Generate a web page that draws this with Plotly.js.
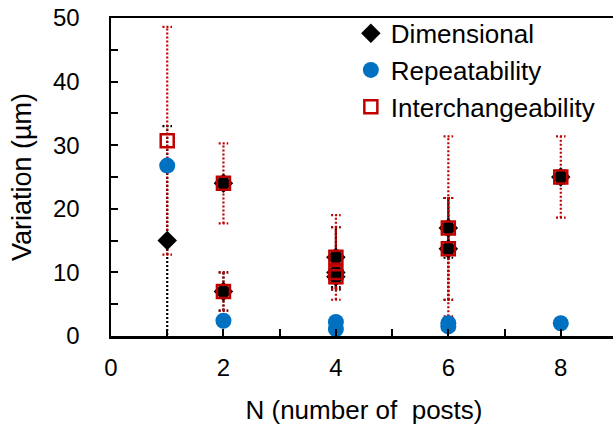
<!DOCTYPE html>
<html>
<head>
<meta charset="utf-8">
<script src="https://cdn.plot.ly/plotly-3.0.1.min.js"></script>
<style>
html,body{margin:0;padding:0;overflow:hidden;width:613px;height:425px;background:#fff;}
#chart{width:640px;height:425px;}
</style>
</head>
<body>
<div id="chart"></div>
<script>
// ---- data ----
const seriesNames = ["Dimensional", "Repeatability", "Interchangeability"];

const dimN        = [1, 2, 2, 4, 4, 4, 6, 6, 8];
const dimValue    = [15.0, 24.0, 7.0, 12.4, 10.0, 9.3, 17.0, 13.7, 25.0];
const dimErrPlus  = [18.0, 1.0, 3.0, 4.7, 2.6, 2.0, 4.7, 8.0, 1.0];
const dimErrMinus = [18.0, 1.0, 3.0, 4.7, 2.6, 2.0, 4.7, 8.0, 1.0];

const repN        = [1, 2, 4, 4, 6, 6, 8];
const repValue    = [26.8, 2.4, 2.2, 1.1, 2.0, 1.5, 2.0];

const intN        = [1, 2, 2, 4, 4, 4, 6, 6, 8];
const intValue    = [30.7, 24.0, 7.0, 12.4, 10.0, 9.3, 17.0, 13.7, 25.0];
const intErrPlus  = [17.9, 6.3, 3.0, 6.6, 7.1, 1.0, 14.4, 8.0, 6.4];
const intErrMinus = [17.9, 6.3, 3.0, 6.7, 2.6, 1.0, 13.9, 8.0, 6.4];

const xTickVals = [0, 2, 4, 6, 8];
const yTickVals = [0, 10, 20, 30, 40, 50];

// ---- styling ----
const BLACK = "#000000", BLUE = "#0070C0", RED = "#C00000";
const FONT = "Arial, 'Liberation Sans', sans-serif";
const CAP = 0.085; // half cap width in x units

function errorLines(xs, ys, plus, minus) {
  const X = [], Y = [];
  for (let i = 0; i < xs.length; i++) {
    const x = xs[i], top = ys[i] + plus[i], bot = ys[i] - minus[i];
    X.push(x, x, null, x - CAP, x + CAP, null, x - CAP, x + CAP, null);
    Y.push(bot, top, null, top, top, null, bot, bot, null);
  }
  return {X, Y};
}

const dErr = errorLines(dimN, dimValue, dimErrPlus, dimErrMinus);
const iErr = errorLines(intN, intValue, intErrPlus, intErrMinus);

const traces = [
  {x: dErr.X, y: dErr.Y, mode: "lines", showlegend: false, hoverinfo: "skip",
   line: {color: BLACK, width: 2.2, dash: "2px,2px"}},
  {x: iErr.X, y: iErr.Y, mode: "lines", showlegend: false, hoverinfo: "skip",
   line: {color: RED, width: 2.2, dash: "2px,2px"}},
  {x: dimN, y: dimValue, mode: "markers", name: seriesNames[0],
   marker: {symbol: "diamond", size: 15, color: BLACK}},
  {x: repN, y: repValue, mode: "markers", name: seriesNames[1],
   marker: {symbol: "circle", size: 16, color: BLUE}},
  {x: intN, y: intValue, mode: "markers", name: seriesNames[2],
   marker: {symbol: "square-open", size: 13, color: RED, line: {color: RED, width: 2.5}}}
];

const layout = {
  width: 640, height: 425,
  margin: {l: 111, r: 23, t: 18, b: 89, autoexpand: false},
  paper_bgcolor: "#fff", plot_bgcolor: "#fff",
  font: {family: FONT, color: "#000", size: 24},
  showlegend: true,
  legend: {x: 0.474, y: 1.026, xanchor: "left", yanchor: "top",
           font: {family: FONT, size: 26, color: "#000"},
           bgcolor: "rgba(0,0,0,0)", itemclick: false, tracegroupgap: 0},
  xaxis: {
    range: [0, 9], tickvals: xTickVals, ticktext: xTickVals.map(String),
    ticks: "inside", ticklen: 7, tickwidth: 2, tickcolor: BLACK,
    minor: {dtick: 1, tick0: 0, ticks: "inside", ticklen: 7, tickwidth: 2, tickcolor: BLACK},
    showline: true, linecolor: BLACK, linewidth: 2.5, mirror: true,
    showgrid: false, zeroline: false, ticklabelstandoff: 9,
    tickfont: {family: FONT, size: 24},
    title: {text: "N (number of  posts)", font: {family: FONT, size: 26}, standoff: 21},
    automargin: false
  },
  yaxis: {
    range: [0, 50], tickvals: yTickVals, ticktext: yTickVals.map(String),
    ticks: "inside", ticklen: 7, tickwidth: 2, tickcolor: BLACK,
    minor: {dtick: 5, tick0: 0, ticks: "inside", ticklen: 7, tickwidth: 2, tickcolor: BLACK},
    showline: true, linecolor: BLACK, linewidth: 2.5, mirror: true,
    showgrid: false, zeroline: false, ticklabelstandoff: 24,
    tickfont: {family: FONT, size: 24},
    title: {text: "Variation (µm)", font: {family: FONT, size: 27}, standoff: 14},
    automargin: false
  }
};

Plotly.newPlot("chart", traces, layout, {staticPlot: true, displayModeBar: false});
</script>
</body>
</html>
